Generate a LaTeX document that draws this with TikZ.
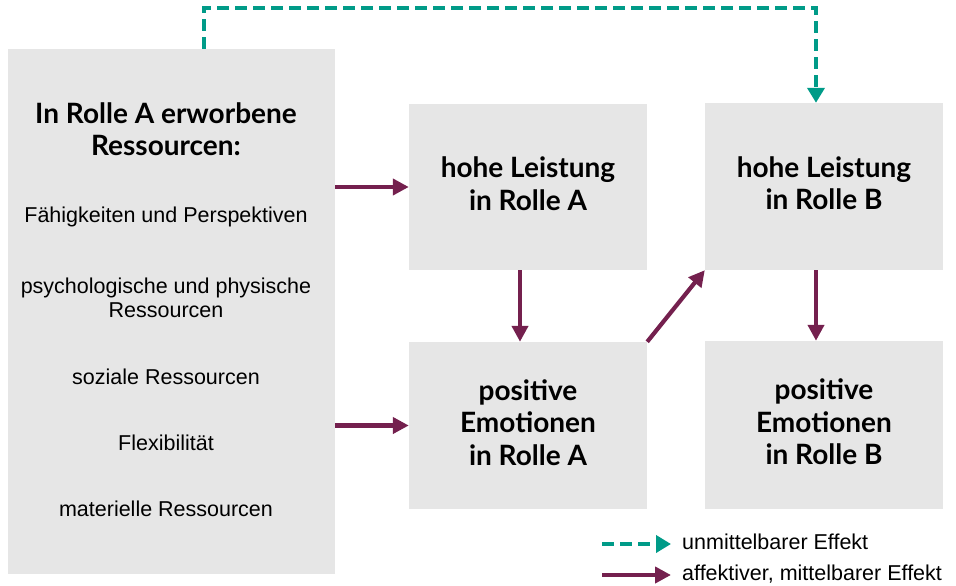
\documentclass[tikz,border=0pt]{standalone}
\usepackage{fontspec}
\setmainfont{Liberation Sans}
\newfontfamily\hfont{Lato}
\usetikzlibrary{arrows.meta}
\definecolor{boxgray}{HTML}{E6E6E6}
\definecolor{teal1}{HTML}{009B88}
\definecolor{purp}{HTML}{74204E}
\tikzset{
  gbox/.style={rectangle, fill=boxgray, inner sep=0pt},
  htext/.style={inner sep=0pt, align=center, font=\hfont\bfseries\fontsize{28}{32.5}\selectfont},
  item/.style={inner sep=0pt, align=center, font=\fontsize{21.5}{24}\selectfont},
  affect/.style={purp, line width=4.2pt, -{Triangle[length=16pt,width=16pt]}},
  direct/.style={teal1, line width=4.2pt, dash pattern=on 12pt off 6pt, -{Triangle[length=15pt,width=17pt]}},
  legtext/.style={inner sep=0pt, anchor=west, font=\fontsize{21.5}{24}\selectfont}
}
\begin{document}
\begin{tikzpicture}[x=1pt,y=-1pt]
\useasboundingbox (0,0) rectangle (956,586);
\node[gbox, minimum width=327pt, minimum height=525pt] (res) at (171.5,311.5) {};
\node[htext] (restitle) at (166,129) {In Rolle A erworbene\\Ressourcen:};
\node[item] (i1) at (166,217) {Fähigkeiten und Perspektiven};
\node[item] (i2) at (166,298) {psychologische und physische\\Ressourcen};
\node[item] (i3) at (166,377) {soziale Ressourcen};
\node[item] (i4) at (166,443) {Flexibilität};
\node[item] (i5) at (166,509) {materielle Ressourcen};
\node[gbox, minimum width=238pt, minimum height=166pt] (la) at (528,187) {};
\node[gbox, minimum width=238pt, minimum height=167pt] (lb) at (824,186.5) {};
\node[gbox, minimum width=238pt, minimum height=167pt] (ea) at (528,425.5) {};
\node[gbox, minimum width=238pt, minimum height=168pt] (eb) at (824,425) {};
\node[htext] (lat) at ([yshift=3.5pt]la.center) {hohe Leistung\\in Rolle A};
\node[htext] (lbt) at ([yshift=3.5pt]lb.center) {hohe Leistung\\in Rolle B};
\node[htext] (eat) at ([yshift=3pt]ea.center) {positive\\Emotionen\\in Rolle A};
\node[htext] (ebt) at ([yshift=3pt]eb.center) {positive\\Emotionen\\in Rolle B};
\coordinate (c1) at (204,8);
\coordinate (c2) at (816,8);
\draw[direct] (res.north -| c1) -- (c1) -- (c2) -- (lb.north -| c2);
\draw[affect] (res.east |- la) -- (la.west);
\draw[affect] (res.east |- ea) -- (ea.west);
\draw[affect] (la.south -| 520,0) -- (ea.north -| 520,0);
\draw[affect] (lb.south -| 816,0) -- (eb.north -| 816,0);
\draw[affect] (ea.north east) -- (lb.south west);
\coordinate (l1s) at (602,544);
\coordinate (l1e) at (671,544);
\coordinate (l2s) at (602,575);
\coordinate (l2e) at (671,575);
\draw[direct] (l1s) -- (l1e);
\draw[affect] (l2s) -- (l2e);
\node[legtext] (t1) at (682,542) {unmittelbarer Effekt};
\node[legtext] (t2) at (682,574) {affektiver, mittelbarer Effekt};
\end{tikzpicture}
\end{document}
